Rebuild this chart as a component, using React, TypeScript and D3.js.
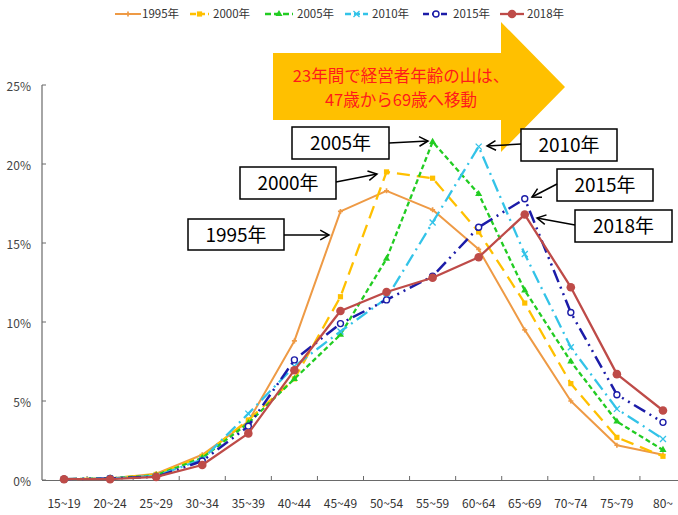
import React from "react";
import * as d3 from "d3";

// Age groups of business owners
const categories = [
  "15~19", "20~24", "25~29", "30~34", "35~39", "40~44", "45~49",
  "50~54", "55~59", "60~64", "65~69", "70~74", "75~79", "80~",
];

// Share of owners in each age group (%)
const s1995 = [0.05, 0.1, 0.4, 1.6, 3.7, 8.8, 17.0, 18.3, 17.1, 14.6, 9.5, 5.0, 2.2, 1.6];
const s2000 = [0.05, 0.1, 0.35, 1.5, 3.8, 6.4, 11.6, 19.5, 19.1, 15.7, 11.2, 6.1, 2.7, 1.5];
const s2005 = [0.05, 0.1, 0.3, 1.4, 3.6, 6.4, 9.2, 14.0, 21.4, 18.1, 12.0, 7.5, 3.7, 1.9];
const s2010 = [0.05, 0.1, 0.25, 1.3, 4.2, 7.2, 9.4, 11.5, 16.3, 21.1, 14.3, 8.4, 4.5, 2.6];
const s2015 = [0.05, 0.1, 0.2, 1.2, 3.4, 7.6, 9.9, 11.4, 12.9, 16.0, 17.8, 10.6, 5.4, 3.65];
const s2018 = [0.05, 0.05, 0.2, 0.95, 2.95, 6.95, 10.7, 11.9, 12.8, 14.1, 16.8, 12.2, 6.7, 4.4];

const seriesNames = ["1995年", "2000年", "2005年", "2010年", "2015年", "2018年"];
const yTicks = [0, 5, 10, 15, 20, 25];

const headline = ["23年間で経営者年齢の山は、", "47歳から69歳へ移動"];

type Style = {
  color: string;
  dash: string | null;
  width: number;
  marker: "tick" | "square" | "triangle" | "x" | "ring" | "dot";
};

const styles: Style[] = [
  { color: "#EE9A45", dash: null, width: 2, marker: "tick" },
  { color: "#FFC000", dash: "13,7", width: 2.3, marker: "square" },
  { color: "#22CC22", dash: "5,3", width: 2.3, marker: "triangle" },
  { color: "#33C3E8", dash: "13,5,2,5", width: 2.3, marker: "x" },
  { color: "#1C1CA8", dash: "13,5,2,5,2,5", width: 2.5, marker: "ring" },
  { color: "#BE4B48", dash: null, width: 2.3, marker: "dot" },
];

const seriesValues = [s1995, s2000, s2005, s2010, s2015, s2018];

// Callout boxes with their pointer arrows
const callouts = [
  { label: "1995年", box: [188, 219, 96, 31], from: [284, 235], to: [329, 235] },
  { label: "2000年", box: [240, 167, 96, 32], from: [336, 182], to: [377, 174] },
  { label: "2005年", box: [292, 127, 97, 32], from: [389, 143], to: [428, 141] },
  { label: "2010年", box: [521, 129, 96, 32], from: [521, 144], to: [487, 146] },
  { label: "2015年", box: [557, 169, 96, 32], from: [557, 184], to: [532, 197] },
  { label: "2018年", box: [575, 210, 97, 32], from: [575, 225], to: [537, 218] },
];

const W = 678;
const H = 515;

const x = d3.scaleBand<string>().domain(categories).range([41, 686]).padding(0);
const y = d3.scaleLinear().domain([0, 25]).range([480, 85]);
const cx = (c: string) => (x(c) as number) + x.bandwidth() / 2;

function Marker({ kind, px, py, color }: { kind: Style["marker"]; px: number; py: number; color: string }) {
  switch (kind) {
    case "tick":
      return (
        <path
          d={d3.symbol(d3.symbolCross, 14)() as string}
          transform={`translate(${px},${py})`}
          fill={color}
        />
      );
    case "square":
      return <rect x={px - 2.6} y={py - 2.6} width={5.2} height={5.2} fill={color} />;
    case "triangle":
      return (
        <path
          d={d3.symbol(d3.symbolTriangle, 22)() as string}
          transform={`translate(${px},${py})`}
          fill={color}
        />
      );
    case "x":
      return (
        <path
          d={`M${px - 3},${py - 3}L${px + 3},${py + 3}M${px - 3},${py + 3}L${px + 3},${py - 3}`}
          stroke={color}
          strokeWidth={1.3}
        />
      );
    case "ring":
      return <circle cx={px} cy={py} r={3} fill="#fff" stroke={color} strokeWidth={1.4} />;
    case "dot":
      return <circle cx={px} cy={py} r={4.3} fill={color} />;
  }
}

function Arrow({ from, to }: { from: number[]; to: number[] }) {
  const [x1, y1] = from;
  const [x2, y2] = to;
  const a = Math.atan2(y2 - y1, x2 - x1);
  const L = 10;
  const s = 0.5;
  const p1 = [x2 - L * Math.cos(a - s), y2 - L * Math.sin(a - s)];
  const p2 = [x2 - L * Math.cos(a + s), y2 - L * Math.sin(a + s)];
  return (
    <g fill="none" stroke="#000" strokeWidth={1.5}>
      <line x1={x1} y1={y1} x2={x2} y2={y2} />
      <path d={`M${p1[0]},${p1[1]}L${x2},${y2}L${p2[0]},${p2[1]}`} />
    </g>
  );
}

export default function App() {
  const line = d3
    .line<number>()
    .x((_, i) => cx(categories[i]))
    .y((v) => y(v));

  const legendItems = [
    { lx: 115, lw: 26, tx: 142 },
    { lx: 190, lw: 19, tx: 213 },
    { lx: 265, lw: 28, tx: 297 },
    { lx: 345, lw: 23, tx: 372 },
    { lx: 423, lw: 26, tx: 453 },
    { lx: 500, lw: 24, tx: 527 },
  ];

  const axisColor = "#6a6a6a";
  const labelFont = "'Noto Sans CJK JP', 'Noto Sans', sans-serif";

  return (
    <svg
      width={W}
      height={H}
      viewBox={`0 0 ${W} ${H}`}
      style={{ position: "absolute", left: 0, top: 0, background: "#fff" }}
    >
      {/* headline arrow */}
      <polygon
        points="273,53 501,53 501,22 565,87 501,152 501,120 273,120"
        fill="#FFC000"
      />
      <g fill="#FF1A1A" fontFamily={labelFont} fontSize={16.5} textAnchor="middle">
        <text x={401} y={82}>{headline[0]}</text>
        <text x={401} y={106}>{headline[1]}</text>
      </g>

      {/* legend */}
      <g fontFamily={labelFont} fontSize={11.5} fill="#333">
        {legendItems.map((it, i) => {
          const st = styles[i];
          const ly = 14;
          return (
            <g key={seriesNames[i]}>
              <line
                x1={it.lx}
                x2={it.lx + it.lw}
                y1={ly}
                y2={ly}
                stroke={st.color}
                strokeWidth={st.width}
                strokeDasharray={st.dash ? "6,3" : undefined}
              />
              <Marker kind={st.marker} px={it.lx + it.lw / 2} py={ly} color={st.color} />
              <text x={it.tx} y={ly + 4}>{seriesNames[i]}</text>
            </g>
          );
        })}
      </g>

      {/* y axis */}
      <line x1={42} x2={42} y1={y(25)} y2={y(0)} stroke={axisColor} strokeWidth={1.2} />
      {yTicks.map((t) => (
        <g key={t}>
          <line x1={42} x2={46} y1={y(t)} y2={y(t)} stroke={axisColor} strokeWidth={1} />
          <text
            x={31}
            y={y(t) + 6}
            textAnchor="end"
            fontFamily={labelFont}
            fontSize={12}
            fill="#444"
          >
            {t}%
          </text>
        </g>
      ))}

      {/* x axis */}
      <line x1={42} x2={686} y1={480.5} y2={480.5} stroke={axisColor} strokeWidth={1.2} />
      {categories.slice(1).map((c) => (
        <line
          key={c}
          x1={x(c) as number}
          x2={x(c) as number}
          y1={480.5}
          y2={476}
          stroke={axisColor}
          strokeWidth={1}
        />
      ))}
      {categories.map((c) => (
        <text
          key={c}
          x={cx(c)}
          y={508}
          textAnchor="middle"
          fontFamily={labelFont}
          fontSize={12}
          fill="#333"
        >
          {c}
        </text>
      ))}

      {/* series */}
      {seriesValues.map((vals, si) => {
        const st = styles[si];
        return (
          <g key={seriesNames[si]}>
            <path
              d={line(vals) as string}
              fill="none"
              stroke={st.color}
              strokeWidth={st.width}
              strokeDasharray={st.dash ?? undefined}
              strokeLinejoin="round"
            />
            {vals.map((v, i) => (
              <Marker
                key={i}
                kind={st.marker}
                px={cx(categories[i])}
                py={y(v)}
                color={st.color}
              />
            ))}
          </g>
        );
      })}

      {/* callouts */}
      {callouts.map((c) => {
        const [bx, by, bw, bh] = c.box;
        return (
          <g key={c.label}>
            <rect x={bx} y={by} width={bw} height={bh} fill="#fff" stroke="#000" strokeWidth={1.5} />
            <text
              x={bx + bw / 2}
              y={by + bh / 2 + 7}
              textAnchor="middle"
              fontFamily={labelFont}
              fontSize={19}
              fill="#000"
            >
              {c.label}
            </text>
            <Arrow from={c.from} to={c.to} />
          </g>
        );
      })}
    </svg>
  );
}
